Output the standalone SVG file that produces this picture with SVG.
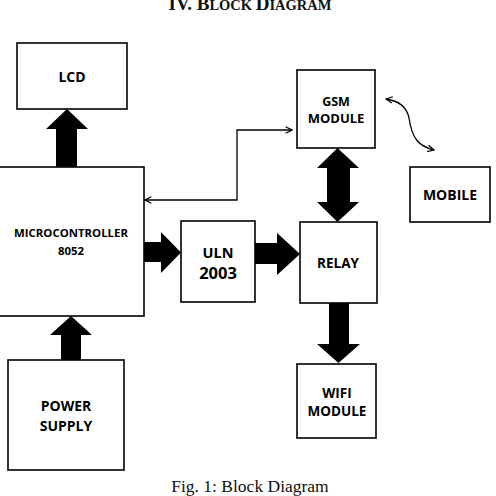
<svg xmlns="http://www.w3.org/2000/svg" width="496" height="496" viewBox="0 0 496 496">
<style>
.box{fill:#fff;stroke:#000;stroke-width:1.6}
.lbl{font-family:"Open Sans","Liberation Sans",sans-serif;font-weight:bold;fill:#000;text-anchor:middle}
.big{fill:#000;stroke:none}
.thin{fill:none;stroke:#000;stroke-width:1.3}
.ttl{font-family:"Liberation Serif",serif;font-weight:bold;fill:#111}
.cap{font-family:"Liberation Serif",serif;fill:#111;text-anchor:middle}
</style>
<defs>
<marker id="oa" viewBox="0 0 10 10" refX="9" refY="5" markerWidth="8" markerHeight="8" markerUnits="userSpaceOnUse" orient="auto-start-reverse">
<polyline points="1,1 9,5 1,9" fill="none" stroke="#000" stroke-width="1.6"/>
</marker>
</defs>
<rect width="496" height="496" fill="#fff"/>
<text class="ttl" x="250" y="10" text-anchor="middle"><tspan font-size="19">IV.  B</tspan><tspan font-size="14.5">LOCK </tspan><tspan font-size="19">D</tspan><tspan font-size="14.5">IAGRAM</tspan></text>

<g id="connectors">
<polygon class="big" points="56,168 77,168 77,129 88,129 67,109 46,129 56,129"/>
<polygon class="big" points="144,242 161,242 161,232 181,252.5 161,273 161,262 144,262"/>
<polygon class="big" points="255,243 277,243 277,233 300,254 277,275 277,264 255,264"/>
<polygon class="big" points="337.5,148 359,168 350,168 350,202 359,202 337.5,222 317,202 327,202 327,168 317,168"/>
<polygon class="big" points="329,303 349,303 349,344 360,344 338.5,363 317,344 329,344"/>
<polygon class="big" points="61,360 81,360 81,335 92,335 71,316 50,335 61,335"/>
<polyline class="thin" points="292,130 237,130 237,200 145,200" marker-start="url(#oa)" marker-end="url(#oa)"/>
<path class="thin" d="M386,99 C400,101 407,108 409,118 C412,138 418,146 434,150" marker-start="url(#oa)" marker-end="url(#oa)"/>
</g>

<g id="lcd"><rect class="box" x="17" y="43" width="110" height="66"/><text class="lbl" x="72" y="82" font-size="14">LCD</text></g>
<g id="microcontroller"><rect class="box" x="-3" y="167" width="147" height="149"/><text class="lbl" x="71" y="237" font-size="11.4">MICROCONTROLLER</text><text class="lbl" x="71" y="255" font-size="11.4">8052</text></g>
<g id="gsm"><rect class="box" x="297" y="70" width="78" height="78"/><text class="lbl" x="336" y="106" font-size="12.5">GSM</text><text class="lbl" x="336" y="123" font-size="13">MODULE</text></g>
<g id="mobile"><rect class="box" x="410" y="167" width="80" height="55"/><text class="lbl" x="450" y="200" font-size="14">MOBILE</text></g>
<g id="uln"><rect class="box" x="181" y="221" width="74" height="81"/><text class="lbl" x="218" y="258" font-size="14.5">ULN</text><text class="lbl" x="218" y="279" font-size="16.5">2003</text></g>
<g id="relay"><rect class="box" x="300" y="222" width="77" height="81"/><text class="lbl" x="338" y="268" font-size="13.5">RELAY</text></g>
<g id="wifi"><rect class="box" x="297" y="364" width="79" height="74"/><text class="lbl" x="337" y="398" font-size="13.5">WIFI</text><text class="lbl" x="337" y="416" font-size="13.5">MODULE</text></g>
<g id="power"><rect class="box" x="8" y="360" width="116" height="110"/><text class="lbl" x="66" y="411" font-size="14">POWER</text><text class="lbl" x="66" y="431" font-size="14">SUPPLY</text></g>

<text class="cap" x="250" y="492" font-size="17.5">Fig. 1: Block Diagram</text>
</svg>
